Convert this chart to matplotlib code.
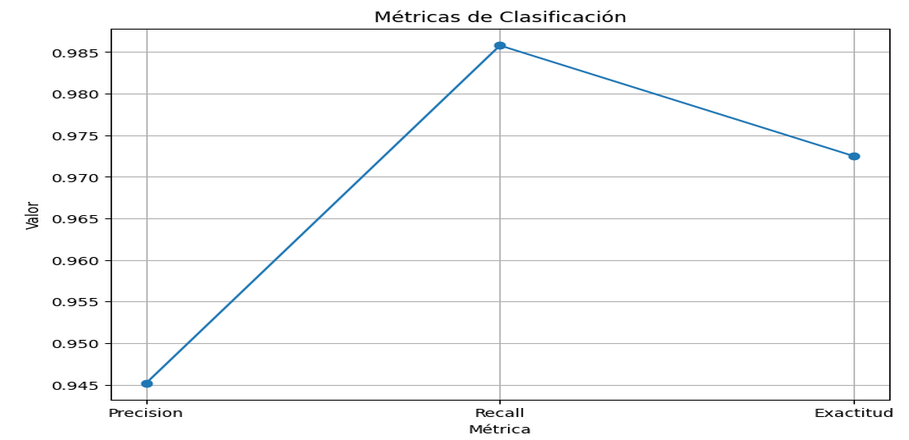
import io

import matplotlib
matplotlib.use("Agg")
import matplotlib.pyplot as plt
from PIL import Image

# Classification metrics
metricas = ["Precision", "Recall", "Exactitud"]
valores = [0.9452, 0.9858, 0.9725]

# Final image size and the anisotropic scaling applied after drawing
OUT_W, OUT_H = 909, 440
SX, SY = 1.23, 0.82
DPI = 100

fig = plt.figure(figsize=(OUT_W / SX / DPI, OUT_H / SY / DPI), dpi=DPI)
ax = fig.add_subplot(111)
fig.subplots_adjust(left=0.122, right=0.978, bottom=0.091, top=0.934)

ax.plot(metricas, valores, marker="o", color="#1f77b4", linewidth=1.5)
ax.set_title("Métricas de Clasificación", fontsize=12)
ax.set_xlabel("Métrica", fontsize=10)
ax.set_ylabel("Valor", fontsize=10)
ax.grid(True)

buf = io.BytesIO()
fig.savefig(buf, format="png", dpi=DPI)
buf.seek(0)
img = Image.open(buf).convert("RGB")
img = img.resize((OUT_W, OUT_H), Image.LANCZOS)
img.save("out.png")
